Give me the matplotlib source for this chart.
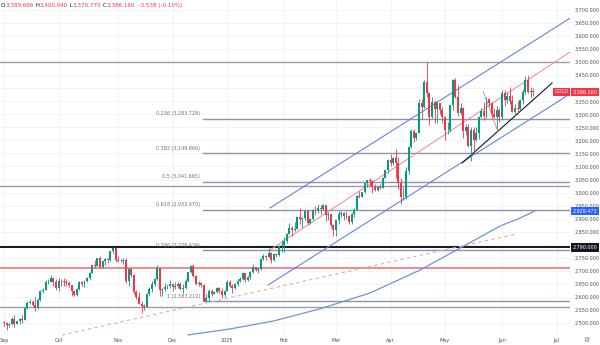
import matplotlib
matplotlib.use("Agg")
import matplotlib.pyplot as plt
import pandas as pd

# daily gold bars; no session on Christmas, New Year's Day and Good Friday
days = pd.bdate_range("2024-09-02", "2025-06-18")
days = days.drop(pd.to_datetime(["2024-12-25", "2025-01-01", "2025-04-18"]))

# one row per month: Sep .. Jun
opens = [
    2503, 2500, 2493, 2495, 2517, 2497, 2506, 2516, 2512, 2558, 2578, 2582, 2569, 2559, 2587, 2622, 2628, 2657, 2657, 2672, 2658,
    2634, 2662, 2659, 2656, 2653, 2644, 2622, 2608, 2630, 2657, 2649, 2662, 2674, 2693, 2721, 2720, 2748, 2715, 2736, 2747, 2743, 2774, 2788,
    2743, 2736, 2736, 2743, 2659, 2706, 2685, 2619, 2598, 2573, 2565, 2563, 2611, 2631, 2651, 2670, 2712, 2626, 2632, 2638, 2641,
    2650, 2639, 2643, 2650, 2632, 2633, 2660, 2694, 2718, 2681, 2648, 2652, 2646, 2586, 2594, 2622, 2612, 2617, 2633, 2621, 2606,
    2624, 2658, 2640, 2635, 2648, 2662, 2670, 2690, 2663, 2677, 2697, 2715, 2703, 2708, 2745, 2755, 2754, 2770, 2740, 2763, 2760, 2794,
    2798, 2815, 2842, 2866, 2856, 2861, 2907, 2898, 2903, 2928, 2883, 2898, 2935, 2933, 2939, 2936, 2951, 2915, 2916, 2876,
    2857, 2893, 2918, 2920, 2910, 2910, 2889, 2916, 2934, 2988, 2984, 3001, 3035, 3047, 3044, 3023, 3011, 3020, 3019, 3057, 3085,
    3124, 3113, 3134, 3114, 3037, 2982, 2982, 3083, 3175, 3237, 3210, 3230, 3343, 3327, 3424, 3381, 3288, 3349, 3319, 3343, 3317,
    3288, 3239, 3241, 3334, 3431, 3365, 3306, 3325, 3236, 3250, 3177, 3240, 3203, 3230, 3290, 3314, 3295, 3357, 3342, 3300, 3288, 3318,
    3289, 3381, 3353, 3372, 3352, 3310, 3326, 3322, 3355, 3386, 3432, 3384, 3389.666,
]
highs = [
    2507, 2505, 2500, 2523, 2529, 2509, 2519, 2529, 2560, 2586, 2590, 2589, 2600, 2594, 2625, 2633, 2664, 2670, 2685, 2674, 2667,
    2673, 2670, 2672, 2670, 2660, 2646, 2627, 2633, 2661, 2660, 2665, 2676, 2696, 2722, 2740, 2749, 2758, 2737, 2748, 2748, 2774, 2790, 2789,
    2758, 2746, 2750, 2749, 2710, 2709, 2686, 2627, 2618, 2584, 2572, 2615, 2639, 2660, 2674, 2721, 2712, 2633, 2655, 2647, 2665,
    2651, 2658, 2657, 2656, 2650, 2667, 2697, 2721, 2726, 2685, 2660, 2658, 2651, 2612, 2632, 2630, 2621, 2639, 2636, 2634, 2627,
    2665, 2665, 2650, 2655, 2670, 2675, 2697, 2691, 2680, 2700, 2725, 2716, 2713, 2746, 2763, 2759, 2786, 2772, 2765, 2770, 2799, 2817,
    2830, 2845, 2882, 2872, 2887, 2911, 2942, 2906, 2935, 2931, 2904, 2938, 2947, 2955, 2954, 2956, 2953, 2925, 2918, 2880,
    2895, 2928, 2930, 2926, 2930, 2913, 2922, 2940, 2990, 3005, 3004, 3038, 3050, 3057, 3048, 3034, 3024, 3033, 3060, 3087, 3128,
    3149, 3135, 3168, 3136, 3055, 3023, 3099, 3175, 3245, 3245, 3232, 3357, 3357, 3430, 3500, 3386, 3367, 3353, 3352, 3345, 3327,
    3294, 3269, 3335, 3435, 3438, 3414, 3343, 3328, 3263, 3264, 3252, 3252, 3250, 3294, 3324, 3346, 3366, 3364, 3346, 3325, 3330, 3325,
    3392, 3392, 3386, 3404, 3375, 3338, 3350, 3360, 3398, 3446, 3452, 3404, 3400.040,
]
lows = [
    2490, 2472, 2483, 2491, 2485, 2495, 2495, 2500, 2510, 2555, 2574, 2564, 2546, 2555, 2584, 2613, 2626, 2651, 2656, 2643, 2625,
    2624, 2643, 2643, 2643, 2636, 2604, 2605, 2603, 2626, 2640, 2638, 2656, 2663, 2691, 2709, 2718, 2709, 2712, 2723, 2731, 2737, 2770, 2732,
    2734, 2733, 2725, 2652, 2643, 2677, 2610, 2590, 2572, 2537, 2550, 2562, 2605, 2620, 2643, 2664, 2605, 2602, 2623, 2630, 2634,
    2622, 2632, 2633, 2625, 2614, 2631, 2656, 2691, 2677, 2645, 2640, 2636, 2583, 2583, 2582, 2603, 2610, 2615, 2616, 2597, 2600,
    2622, 2637, 2615, 2631, 2640, 2656, 2665, 2656, 2660, 2667, 2693, 2700, 2690, 2702, 2740, 2742, 2752, 2731, 2739, 2751, 2757, 2773,
    2772, 2808, 2840, 2834, 2853, 2860, 2881, 2864, 2895, 2876, 2880, 2896, 2914, 2922, 2918, 2935, 2890, 2895, 2869, 2833,
    2832, 2880, 2905, 2895, 2897, 2880, 2881, 2906, 2932, 2979, 2982, 3000, 3022, 3027, 2999, 3005, 3006, 3012, 3016, 3056, 3076,
    3100, 3105, 3054, 3015, 2957, 2970, 2975, 3073, 3172, 3194, 3203, 3228, 3283, 3325, 3367, 3260, 3284, 3265, 3268, 3302, 3268,
    3202, 3223, 3231, 3318, 3362, 3294, 3299, 3208, 3219, 3174, 3121, 3154, 3198, 3205, 3285, 3278, 3287, 3332, 3285, 3285, 3245, 3271,
    3280, 3333, 3344, 3340, 3308, 3293, 3300, 3313, 3340, 3379, 3383, 3366, 3370.770,
]
closes = [
    2500, 2493, 2495, 2517, 2497, 2506, 2516, 2512, 2558, 2578, 2582, 2569, 2559, 2587, 2622, 2628, 2657, 2657, 2672, 2658, 2634,
    2662, 2659, 2656, 2653, 2644, 2622, 2608, 2630, 2657, 2649, 2662, 2674, 2693, 2721, 2720, 2748, 2715, 2736, 2747, 2743, 2774, 2788, 2743,
    2736, 2736, 2743, 2659, 2706, 2685, 2619, 2598, 2573, 2565, 2563, 2611, 2631, 2651, 2670, 2712, 2626, 2632, 2638, 2641, 2650,
    2639, 2643, 2650, 2632, 2633, 2660, 2694, 2718, 2681, 2648, 2652, 2646, 2586, 2594, 2622, 2612, 2617, 2633, 2621, 2606, 2624,
    2658, 2640, 2635, 2648, 2662, 2670, 2690, 2663, 2677, 2697, 2715, 2703, 2708, 2745, 2755, 2754, 2770, 2740, 2763, 2760, 2794, 2798,
    2815, 2842, 2866, 2856, 2861, 2907, 2898, 2903, 2928, 2883, 2898, 2935, 2933, 2939, 2936, 2951, 2915, 2916, 2876, 2857,
    2893, 2918, 2920, 2910, 2910, 2889, 2916, 2934, 2988, 2984, 3001, 3035, 3047, 3044, 3023, 3011, 3020, 3019, 3057, 3085, 3124,
    3113, 3134, 3114, 3037, 2982, 2982, 3083, 3175, 3237, 3210, 3230, 3343, 3327, 3424, 3381, 3288, 3349, 3319, 3343, 3317, 3288,
    3239, 3241, 3334, 3431, 3365, 3306, 3325, 3236, 3250, 3177, 3240, 3203, 3230, 3290, 3314, 3295, 3357, 3342, 3300, 3288, 3318, 3289,
    3381, 3353, 3372, 3352, 3310, 3326, 3322, 3355, 3386, 3432, 3384, 3389.666, 3386.160,
]
assert len(opens) == len(highs) == len(lows) == len(closes) == len(days)

# day change shown in the header (vs. previous settlement)
day_change = -3.538
day_change_pct = -0.10

# fibonacci retracement of the Dec low -> Apr high swing
fib_ratios = ["0.236", "0.382", "0.5", "0.618", "0.786", "1"]
fib_prices = [3283.729, 3149.860, 3041.665, 2933.470, 2779.429, 2583.210]
fib_start = 76.7

# plain horizontal levels
gray_levels = [3500, 3026, 2562]
black_level = 2790.0
red_level = 2711

# drawn trendlines: (bar, price) end points
channel_top = [(102.5, 2940.8), (218.2, 3668.6)]
channel_mid = [(102.5, 2779.8), (218.2, 3538.9)]
channel_low = [(101.8, 2645.6), (218.2, 3377.9)]
support_line = [(176.6, 3113.3), (211.3, 3420.1)]
dashed_trend = [(22.3, 2453.8), (197.4, 2841.1)]
pullback_line = [(184.7, 3389.4), (190.5, 3232.2)]

# long moving average, read at a few bars
ma_bars = [70.9, 87.1, 103.7, 121.8, 141.1, 160.4, 175.8, 191.3, 198.9, 204.7]
ma_vals = [2454, 2477, 2507, 2554, 2615, 2703, 2787, 2872, 2902, 2929.473]

UP, DOWN = "#089981", "#f23645"
BLUE = "#5b7fd8"

fig = plt.figure(figsize=(6, 3.45), dpi=100)
ax = fig.add_axes([0, 9 / 345, 570 / 600, 336 / 345])
ax.set_xlim(-1.58, 218.2)
ax.set_ylim(2450, 3738.3)

# month ticks at the first bar of each month
month_pos, month_lab = [], []
prev = None
for i, d in enumerate(days):
    if d.month != prev:
        month_pos.append(i)
        month_lab.append("2025" if (d.month == 1) else d.strftime("%b"))
        prev = d.month
month_pos.append(len(days) + 8)  # Jul 1
month_lab.append("Jul")

ax.set_xticks(month_pos)
ax.set_xticklabels(month_lab)
ticks = list(range(2500, 3701, 50))
hidden = {2800, 3400}  # sit under the price tags
ax.set_yticks(ticks)
ax.set_yticklabels(["" if t in hidden else f"{t:,.3f}" for t in ticks])
ax.yaxis.tick_right()
ax.tick_params(axis="both", length=0, labelsize=3.5, colors="#4a4e5a")
ax.tick_params(axis="y", pad=3)
ax.tick_params(axis="x", pad=1.5)
ax.grid(True, color="#f2f4f8", lw=0.7)
ax.set_axisbelow(True)
for s in ax.spines.values():
    s.set_visible(False)

# horizontal levels
for p in gray_levels:
    ax.axhline(p, color="#9a9dab", lw=1, zorder=1)
ax.axhline(black_level, color="#131722", lw=1.4, zorder=1)
ax.axhline(red_level, color="#ef8080", lw=1.3, zorder=1)
for r, p in zip(fib_ratios, fib_prices):
    ax.plot([fib_start, 218.2], [p, p], color="#8e93ab", lw=1, zorder=1)
    ax.text(fib_start - 1.1, p + 9.5, f"{r} ({p:,.3f})", ha="right", va="bottom",
            fontsize=3.5, color="#6f7386")

# trendlines and moving average
def seg(pts, **kw):
    ax.plot([pts[0][0], pts[1][0]], [pts[0][1], pts[1][1]], zorder=2, **kw)

seg(channel_top, color=BLUE, lw=0.75)
seg(channel_low, color=BLUE, lw=0.75)
seg(channel_mid, color="#f08a84", lw=0.7)
seg(support_line, color="#131722", lw=0.8)
seg(dashed_trend, color="#f0a3a3", lw=0.8, ls=(0, (3, 3)))
seg(pullback_line, color="#f08a84", lw=0.7)
ax.plot(ma_bars, ma_vals, color="#6e93d8", lw=0.9, zorder=2)

# candles
for i, (o, h, l, c) in enumerate(zip(opens, highs, lows, closes)):
    col = UP if c >= o else DOWN
    ax.vlines(i, l, h, color=col, lw=0.6, zorder=3)
    ax.bar(i, max(abs(c - o), 1.5), bottom=min(o, c), width=0.76, color=col,
           lw=0, zorder=3)

# price tags on the scale
def tag(price, txt, bg):
    ax.text(1.004, price, txt, transform=ax.get_yaxis_transform(), ha="left",
            va="center", fontsize=3.5, color="white", clip_on=False, zorder=6,
            bbox=dict(boxstyle="square,pad=0.35", fc=bg, ec="none"))

tag(closes[-1], f"{closes[-1]:,.3f}", DOWN)
tag(ma_vals[-1], f"{ma_vals[-1]:,.3f}", "#2962ff")
tag(black_level, f"{black_level:,.3f}", "#131722")
ax.text(0.997, closes[-1], "GOLD", transform=ax.get_yaxis_transform(), ha="right",
        va="center", fontsize=3.5, color="white", zorder=6,
        bbox=dict(boxstyle="square,pad=0.35", fc=DOWN, ec="none"))

# OHLC header
parts = [("O", "#131722"), (f"{opens[-1]:,.3f}", DOWN),
         (" H", "#131722"), (f"{highs[-1]:,.3f}", DOWN),
         (" L", "#131722"), (f"{lows[-1]:,.3f}", DOWN),
         (" C", "#131722"), (f"{closes[-1]:,.3f}", DOWN),
         (f"  {day_change:.3f} ({day_change_pct:.2f}%)", DOWN)]
renderer = fig.canvas.get_renderer()
x = 1.0
for txt, col in parts:
    t = fig.text(x / 600, 1 - 5.5 / 345, txt, fontsize=4.1, color=col,
                 ha="left", va="center")
    x += t.get_window_extent(renderer).width

fig.text(586 / 600, 1 - 340 / 345, "\u2699", fontsize=5, color="#6a6d78",
         ha="center", va="center")

fig.savefig("out.png", dpi=100)
